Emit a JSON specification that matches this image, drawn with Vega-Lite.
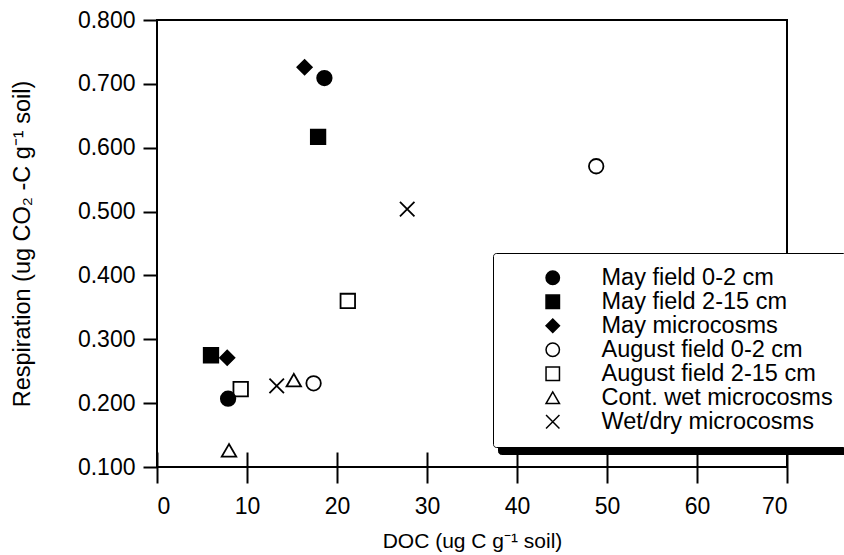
{
  "$schema": "https://vega.github.io/schema/vega-lite/v6.json",
  "width": 630,
  "height": 447,
  "autosize": {"type": "none"},
  "padding": {"left": 157, "top": 20, "right": 57, "bottom": 88},
  "background": "white",
  "config": {
    "font": "Liberation Sans",
    "view": {"stroke": "black", "strokeWidth": 2},
    "axis": {
      "grid": false,
      "domain": false,
      "tickColor": "black",
      "tickWidth": 2,
      "labelColor": "black",
      "labelFontSize": 23,
      "labelFont": "Liberation Sans",
      "titleColor": "black",
      "titleFontWeight": "normal",
      "titleFont": "Liberation Sans"
    }
  },
  "data": {
    "values": [
      {"group": "May field 0-2 cm", "doc": 18.6, "resp": 0.709},
      {"group": "May field 0-2 cm", "doc": 7.9, "resp": 0.207},
      {"group": "May field 2-15 cm", "doc": 17.9, "resp": 0.617},
      {"group": "May field 2-15 cm", "doc": 6.0, "resp": 0.275},
      {"group": "May microcosms", "doc": 16.4, "resp": 0.726},
      {"group": "May microcosms", "doc": 7.8, "resp": 0.271},
      {"group": "August field 0-2 cm", "doc": 48.8, "resp": 0.571},
      {"group": "August field 0-2 cm", "doc": 17.4, "resp": 0.231},
      {"group": "August field 2-15 cm", "doc": 21.2, "resp": 0.360},
      {"group": "August field 2-15 cm", "doc": 9.3, "resp": 0.222},
      {"group": "Cont. wet microcosms", "doc": 15.2, "resp": 0.236},
      {"group": "Cont. wet microcosms", "doc": 8.0, "resp": 0.126},
      {"group": "Wet/dry microcosms", "doc": 27.8, "resp": 0.504},
      {"group": "Wet/dry microcosms", "doc": 13.3, "resp": 0.227}
    ]
  },
  "layer": [
    {
      "mark": {"type": "point", "filled": true, "size": 0},
      "encoding": {
        "x": {"field": "doc", "type": "quantitative", "scale": {"domain": [0, 70], "nice": false}},
        "y": {"field": "resp", "type": "quantitative", "scale": {"domain": [0.1, 0.8], "nice": false, "zero": false}},
        "opacity": {
          "field": "group",
          "type": "ordinal",
          "scale": {
            "domain": ["Wet/dry microcosms", "Cont. wet microcosms", "August field 2-15 cm", "August field 0-2 cm", "May microcosms", "May field 2-15 cm", "May field 0-2 cm"],
            "range": [1, 1, 1, 1, 1, 1, 1]
          },
          "legend": {
            "orient": "none",
            "legendX": 341,
            "legendY": 240,
            "padding": 13,
            "fillColor": "black",
            "strokeColor": "black",
            "cornerRadius": 3,
            "labelExpr": "''",
            "labelFontSize": 23.5,
            "symbolSize": 555,
            "symbolType": "square",
            "symbolFillColor": "black",
            "symbolStrokeColor": "black",
            "symbolStrokeWidth": 0,
            "symbolOffset": 320,
            "labelOffset": 0,
            "rowPadding": 0,
            "title": null,
            "zindex": 0,
            "encode": {
              "legend": {"update": {"strokeWidth": {"value": 2}}},
              "symbols": {"update": {"fill": {"value": "black"}, "size": {"value": 555}, "opacity": {"value": 1}}}
            }
          }
        }
      }
    },
    {
      "mark": {"type": "point", "filled": true, "stroke": "black", "strokeWidth": 1.8, "opacity": 1},
      "encoding": {
        "x": {
          "field": "doc",
          "type": "quantitative",
          "scale": {"domain": [0, 70], "nice": false},
          "axis": {
            "values": [0, 10, 20, 30, 40, 50, 60, 70],
            "offset": -15,
            "tickSize": 31,
            "labelPadding": 12,
            "titlePadding": 12,
            "titleFontSize": 21,
            "title": "DOC (ug C g⁻¹  soil)"
          }
        },
        "y": {
          "field": "resp",
          "type": "quantitative",
          "scale": {"domain": [0.1, 0.8], "nice": false, "zero": false},
          "axis": {
            "values": [0.1, 0.2, 0.3, 0.4, 0.5, 0.6, 0.7, 0.8],
            "format": ".3f",
            "tickSize": 14,
            "labelPadding": 8,
            "titlePadding": 43,
            "titleFontSize": 23.5,
            "title": "Respiration (ug CO₂ -C g⁻¹  soil)"
          }
        },
        "shape": {
          "field": "group",
          "type": "nominal",
          "scale": {
            "domain": ["May field 0-2 cm", "May field 2-15 cm", "May microcosms", "August field 0-2 cm", "August field 2-15 cm", "Cont. wet microcosms", "Wet/dry microcosms"],
            "range": ["circle", "square", "diamond", "circle", "square", "triangle-up", "M-1,-1L1,1M1,-1L-1,1"]
          },
          "legend": {
            "orient": "none",
            "legendX": 336,
            "legendY": 233,
            "padding": 13,
            "fillColor": "white",
            "strokeColor": "black",
            "cornerRadius": 3,
            "labelFontSize": 23.5,
            "labelFont": "Liberation Sans",
            "labelColor": "black",
            "labelLimit": 400,
            "symbolSize": 180,
            "symbolOffset": 35,
            "labelOffset": 37,
            "rowPadding": -1.7,
            "title": null,
            "zindex": 1,
            "encode": {
              "legend": {"update": {"strokeWidth": {"value": 2}}},
              "symbols": {"update": {"stroke": {"value": "black"}, "strokeWidth": {"value": 1.8}}}
            }
          }
        },
        "fill": {
          "field": "group",
          "type": "nominal",
          "scale": {
            "domain": ["May field 0-2 cm", "May field 2-15 cm", "May microcosms", "August field 0-2 cm", "August field 2-15 cm", "Cont. wet microcosms", "Wet/dry microcosms"],
            "range": ["black", "black", "black", "transparent", "transparent", "transparent", "transparent"]
          },
          "legend": {
            "orient": "none",
            "legendX": 336,
            "legendY": 233,
            "padding": 13,
            "fillColor": "white",
            "strokeColor": "black",
            "cornerRadius": 3,
            "labelFontSize": 23.5,
            "labelFont": "Liberation Sans",
            "labelColor": "black",
            "labelLimit": 400,
            "symbolSize": 180,
            "symbolOffset": 35,
            "labelOffset": 37,
            "rowPadding": -1.7,
            "title": null,
            "zindex": 1,
            "encode": {
              "legend": {"update": {"strokeWidth": {"value": 2}}},
              "symbols": {"update": {"stroke": {"value": "black"}, "strokeWidth": {"value": 1.8}}}
            }
          }
        },
        "size": {"value": 210}
      }
    }
  ],
  "resolve": {"scale": {"opacity": "independent"}}
}
